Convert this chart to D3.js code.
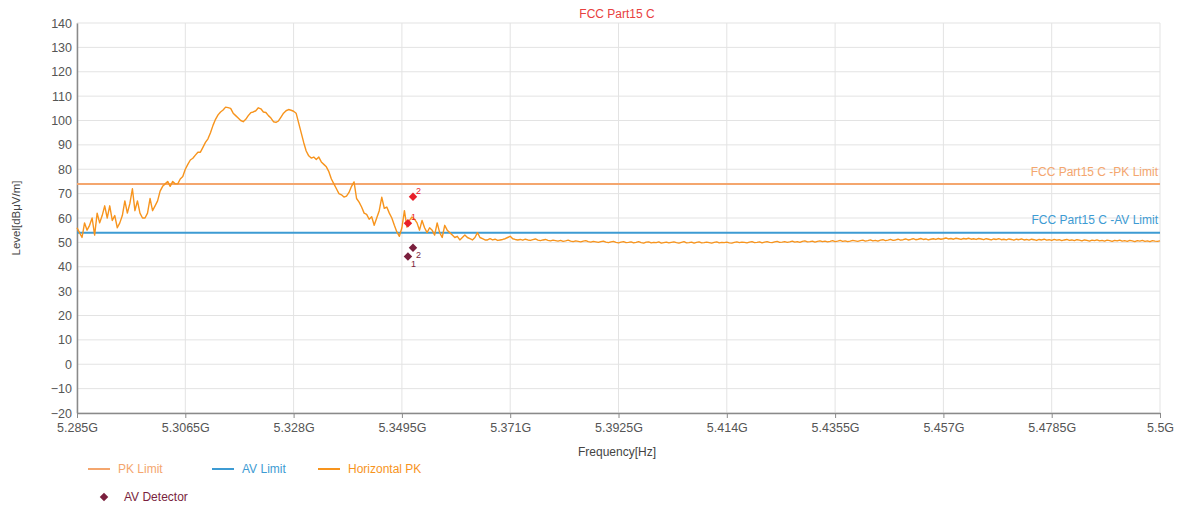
<!DOCTYPE html>
<html>
<head>
<meta charset="utf-8">
<script src="https://cdn.jsdelivr.net/npm/d3@7"></script>
<style>
  html, body { margin: 0; padding: 0; background: #fff; }
  svg { display: block; font-family: "Liberation Sans", Arial, sans-serif; }
</style>
</head>
<body>
<svg id="chart" width="1180" height="509"></svg>
<script>
// Sweep: 5.285 GHz to 5.5 GHz, one reading every 0.5 MHz
const sweepStartGHz = 5.285;
const sweepStepGHz = 0.0005;

// Horizontal PK trace, dBuV/m
const horizontalPK = [
  56, 54, 52, 58, 55, 57, 60, 53, 62, 58, 61, 65, 60, 65, 59,
  61, 56, 58, 61, 67, 62, 66, 72, 63, 67, 62, 60, 60, 62, 68,
  63, 65, 67, 71, 73, 74, 75, 73, 75, 74, 74, 76, 77, 80, 82,
  83.8, 84.5, 85.8, 87, 87, 89, 91, 92.5, 95, 98, 100.5, 102.3, 103.5, 104.3, 105.5,
  105.3, 105, 103, 102, 101, 100, 99.5, 100.5, 102, 103.2, 103.5, 104, 105.2, 104.8, 103.5,
  103.3, 102, 101, 99.5, 99.2, 99.8, 101.4, 103, 104, 104.5, 104.2, 103.8, 103, 99, 95,
  91, 87.5, 85.5, 84.6, 85, 84, 85, 83, 82, 81, 79, 76, 74, 72, 70,
  69.5, 68.6, 69, 70.5, 73, 74.8, 68, 66.5, 64.5, 62, 61.5, 59.5, 60.5, 57, 60,
  63, 68.5, 64, 64.5, 62, 60, 57, 54.3, 52.5, 56, 63, 56.3, 59, 60.4, 59.5,
  58, 55, 59, 56, 54, 56, 55, 53, 58, 54, 52, 57, 55, 54, 53,
  52, 52.5, 51, 52, 53, 52, 51.5, 51, 52, 54, 52, 51.5, 51, 51, 51.5,
  51, 51.3, 50.8, 51, 51.2, 51.5, 52, 52.5, 51.5, 51.2, 51,
  51.2, 50.9, 51.3, 51.0, 50.8, 51.1, 51.4, 50.9, 50.7, 51.0, 51.2, 50.8, 50.6, 50.9, 50.7,
  50.5, 50.8, 50.4, 50.6, 50.9, 50.5, 50.3, 50.6, 50.4, 50.2, 50.5, 50.7, 50.3, 50.1, 50.4,
  50.2, 50.0, 50.3, 50.5, 50.1, 49.9, 50.2, 50.4, 50.0, 49.8, 50.1, 50.3, 49.9, 50.0, 50.2,
  49.8, 50.0, 50.3, 49.9, 49.7, 50.1, 50.2, 49.8, 50.0, 49.9, 50.2, 49.7, 49.9, 50.1, 49.8,
  50.0, 50.2, 49.9, 49.7, 50.0, 50.3, 49.8, 49.9, 50.1, 49.7, 50.0, 50.2, 49.8, 49.9, 50.1,
  49.9, 49.7, 50.0, 50.2, 49.8, 50.0, 49.9, 50.1, 49.8, 49.7, 50.0, 50.2, 49.9, 50.1, 50.0,
  49.8, 50.1, 50.3, 49.9, 50.0, 50.2, 49.8, 50.1, 50.3, 50.0, 49.9, 50.2, 50.4, 50.0, 50.1,
  50.3, 50.0, 50.2, 50.5, 50.1, 50.3, 50.0, 50.4, 50.6, 50.2, 50.3, 50.5, 50.1, 50.4, 50.6,
  50.3, 50.5, 50.2, 50.4, 50.7, 50.3, 50.5, 50.8, 50.4, 50.6, 50.3, 50.5, 50.8, 50.6, 50.4,
  50.7, 50.9, 50.5, 50.7, 51.0, 50.6, 50.8, 50.5, 50.9, 51.1, 50.7, 50.9, 51.2, 50.8, 51.0,
  51.3, 50.9, 51.1, 51.4, 51.0, 51.2, 51.5, 51.1, 51.3, 51.6, 51.2, 51.4, 51.0, 51.3, 51.5,
  51.2, 51.6, 51.3, 51.5, 51.8, 51.4, 51.6, 51.3, 51.7, 51.5, 51.2, 51.6, 51.4, 51.7, 51.3,
  51.5, 51.2, 51.6, 51.4, 51.1, 51.5, 51.3, 51.0, 51.4, 51.2, 51.5, 51.1, 51.3, 51.0, 51.4,
  51.2, 50.9, 51.3, 51.1, 51.4, 51.0, 51.2, 50.9, 51.3, 51.1, 50.8, 51.2, 51.0, 51.3, 50.9,
  51.1, 50.8, 51.2, 50.9, 51.1, 50.7, 51.0, 51.2, 50.8, 51.0, 50.7, 51.1, 50.9, 50.6, 51.0,
  50.8, 50.5, 50.9, 50.7, 51.0, 50.6, 50.8, 50.5, 50.9, 50.7, 50.4, 50.8, 50.6, 50.9, 50.5,
  50.7, 50.4, 50.8, 50.6, 50.3, 50.7, 50.5, 50.8, 50.4, 50.6, 50.3, 50.7, 50.5, 50.4, 50.6
];

// Limits, dBuV/m
const pkLimit = 74;
const avLimit = 54;

// Detector readings
const pkDetectorFreqGHz = [5.3507, 5.3517];
const pkDetectorLevel = [57.8, 68.7];
const pkDetectorLabel = ["1", "2"];
const avDetectorFreqGHz = [5.3507, 5.3517];
const avDetectorLevel = [44.2, 47.8];
const avDetectorLabel = ["1", "2"];

// Axis ticks
const xTickValues = [5.285, 5.3065, 5.328, 5.3495, 5.371, 5.3925, 5.414, 5.4355, 5.457, 5.4785, 5.5];
const xTickLabels = ["5.285G", "5.3065G", "5.328G", "5.3495G", "5.371G", "5.3925G", "5.414G", "5.4355G", "5.457G", "5.4785G", "5.5G"];
const yTickValues = [-20, -10, 0, 10, 20, 30, 40, 50, 60, 70, 80, 90, 100, 110, 120, 130, 140];

// Legend entries
const legendNames = ["PK Limit", "AV Limit", "Horizontal PK"];
const legendDetectorName = "AV Detector";

const colors = {
  pkLimit: "#f4a66e",
  avLimit: "#3d9bd3",
  trace: "#f7941d",
  pkDet: "#e8202a",
  avDet: "#7a1f3d",
  title: "#e8403e",
  text: "#555"
};

const svg = d3.select("#chart");
const plot = { left: 77, right: 1160, top: 23, bottom: 413 };

const x = d3.scaleLinear().domain([5.285, 5.5]).range([plot.left, plot.right]);
const y = d3.scaleLinear().domain([-20, 140]).range([plot.bottom, plot.top]);

// Grid
const grid = svg.append("g");
grid.selectAll(".hg").data(yTickValues).join("line")
  .attr("x1", plot.left).attr("x2", plot.right)
  .attr("y1", d => y(d)).attr("y2", d => y(d))
  .attr("stroke", "#e3e3e3").attr("stroke-width", 1);
grid.selectAll(".vg").data(xTickValues).join("line")
  .attr("x1", d => x(d)).attr("x2", d => x(d))
  .attr("y1", plot.top).attr("y2", plot.bottom)
  .attr("stroke", "#e3e3e3").attr("stroke-width", 1);

// Axes
const xAxis = d3.axisBottom(x).tickValues(xTickValues)
  .tickFormat((d, i) => xTickLabels[i]).tickSize(5).tickSizeOuter(0);
const gx = svg.append("g").attr("transform", `translate(0,${plot.bottom})`).call(xAxis);
gx.select(".domain").attr("stroke", "#8a8a8a").attr("stroke-width", 1.5);
gx.selectAll(".tick line").attr("stroke", "#8a8a8a");
gx.selectAll(".tick text").attr("fill", colors.text).attr("font-size", 12.5).attr("dy", "0.9em")
  .attr("font-family", "Liberation Sans, Arial, sans-serif");

const yAxis = d3.axisLeft(y).tickValues(yTickValues).tickSize(0).tickSizeOuter(0).tickPadding(5);
const gy = svg.append("g").attr("transform", `translate(${plot.left},0)`).call(yAxis);
gy.select(".domain").attr("stroke", "#8a8a8a").attr("stroke-width", 1.5);
gy.selectAll(".tick text").attr("fill", colors.text).attr("font-size", 12.5)
  .attr("font-family", "Liberation Sans, Arial, sans-serif");

// Titles
svg.append("text").attr("x", 617).attr("y", 18).attr("text-anchor", "middle")
  .attr("font-size", 12).attr("fill", colors.title).text("FCC Part15 C");
svg.append("text").attr("x", 617).attr("y", 456).attr("text-anchor", "middle")
  .attr("font-size", 12).attr("fill", "#444").text("Frequency[Hz]");
svg.append("text").attr("transform", "translate(20,218) rotate(-90)").attr("text-anchor", "middle")
  .attr("font-size", 11.5).attr("fill", "#444").text("Level[dBμV/m]");

// Limit lines
svg.append("line").attr("x1", plot.left).attr("x2", plot.right)
  .attr("y1", y(pkLimit)).attr("y2", y(pkLimit))
  .attr("stroke", colors.pkLimit).attr("stroke-width", 2);
svg.append("line").attr("x1", plot.left).attr("x2", plot.right)
  .attr("y1", y(avLimit)).attr("y2", y(avLimit))
  .attr("stroke", colors.avLimit).attr("stroke-width", 2);
svg.append("text").attr("x", plot.right - 2).attr("y", y(pkLimit) - 8).attr("text-anchor", "end")
  .attr("font-size", 12).attr("fill", colors.pkLimit).text("FCC Part15 C -PK Limit");
svg.append("text").attr("x", plot.right - 2).attr("y", y(avLimit) - 9).attr("text-anchor", "end")
  .attr("font-size", 12).attr("fill", colors.avLimit).text("FCC Part15 C -AV Limit");

// Trace
const line = d3.line()
  .x((d, i) => x(sweepStartGHz + i * sweepStepGHz))
  .y(d => y(d));
svg.append("path").datum(horizontalPK)
  .attr("d", line).attr("fill", "none")
  .attr("stroke", colors.trace).attr("stroke-width", 1.4).attr("stroke-linejoin", "round");

// Detector markers: squares turned 45 degrees
const diamond = d3.symbol().type(d3.symbolSquare).size(36);
function drawMarkers(freqs, levels, labels, color, labelDx, labelDy) {
  const g = svg.append("g");
  freqs.forEach((f, i) => {
    g.append("path").attr("d", diamond)
      .attr("transform", `translate(${x(f)},${y(levels[i])}) rotate(45)`)
      .attr("fill", color);
    g.append("text").attr("x", x(f) + labelDx).attr("y", y(levels[i]) + labelDy)
      .attr("font-size", 9).attr("fill", color).text(labels[i]);
  });
}
drawMarkers(pkDetectorFreqGHz, pkDetectorLevel, pkDetectorLabel, colors.pkDet, 3, -3);
drawMarkers(avDetectorFreqGHz, avDetectorLevel, avDetectorLabel, colors.avDet, 3, 10);

// Legend
const legendColors = [colors.pkLimit, colors.avLimit, colors.trace];
const legendX = [88, 212, 318];
const lg = svg.append("g");
legendNames.forEach((name, i) => {
  lg.append("line").attr("x1", legendX[i]).attr("x2", legendX[i] + 22)
    .attr("y1", 469).attr("y2", 469).attr("stroke", legendColors[i]).attr("stroke-width", 2);
  lg.append("text").attr("x", legendX[i] + 30).attr("y", 473)
    .attr("font-size", 12).attr("fill", legendColors[i]).text(name);
});
lg.append("path").attr("d", diamond).attr("transform", "translate(104,497) rotate(45)").attr("fill", colors.avDet);
lg.append("text").attr("x", 124).attr("y", 501).attr("font-size", 12).attr("fill", colors.avDet)
  .text(legendDetectorName);
</script>
</body>
</html>
